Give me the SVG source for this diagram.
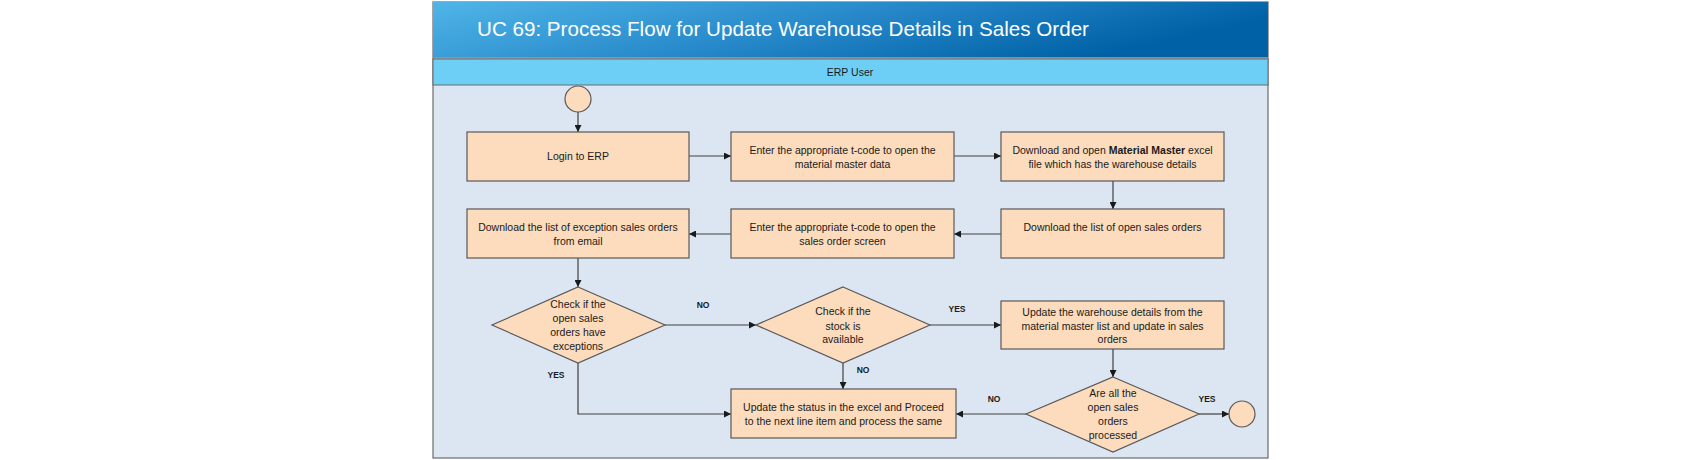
<svg xmlns="http://www.w3.org/2000/svg" width="1702" height="460" viewBox="0 0 1702 460">
<style>
.box{fill:#FCDCBD;stroke:#595959;stroke-width:1.2}
.t{font-family:"Liberation Sans",Arial,sans-serif;font-size:10.5px;fill:#1a1a1a;text-anchor:middle}
.lbl{font-family:"Liberation Sans",Arial,sans-serif;font-size:8.5px;font-weight:bold;fill:#1a1a1a;text-anchor:middle}
.c{fill:none;stroke:#404040;stroke-width:1.2;marker-end:url(#ah)}
</style>
<defs>
<linearGradient id="tg" x1="0" y1="0" x2="1" y2="0.3">
<stop offset="0" stop-color="#50B5E8"/>
<stop offset="0.55" stop-color="#2587C8"/>
<stop offset="1" stop-color="#0061A6"/>
</linearGradient>
<marker id="ah" viewBox="0 0 10 10" refX="10" refY="5" markerWidth="7" markerHeight="7" markerUnits="userSpaceOnUse" orient="auto">
<path d="M0,0 L10,5 L0,10 z" fill="#1a1a1a"/>
</marker>
</defs>
<rect x="0" y="0" width="1702" height="460" fill="#ffffff"/>
<g id="frame">
<rect x="433" y="2" width="835" height="456" fill="#DCE6F2" stroke="#6b6b6b" stroke-width="1.2"/>
<rect x="433" y="2" width="835" height="55.5" fill="url(#tg)"/>
<line x1="433" y1="58" x2="1268" y2="58" stroke="#8a8a8a" stroke-width="1.5"/>
<rect x="433" y="59" width="835" height="26" fill="#6DCFF6" stroke="#6b6b6b" stroke-width="1"/>
<text x="477" y="36" font-family="'Liberation Sans',Arial,sans-serif" font-size="21px" fill="#ffffff" textLength="612" lengthAdjust="spacingAndGlyphs">UC 69: Process Flow for Update Warehouse Details in Sales Order</text>
<text x="850" y="75.5" class="t" font-size="10px">ERP User</text>
</g>
<g id="connectors">
<line class="c" x1="578" y1="112" x2="578" y2="132"/>
<line class="c" x1="689" y1="156" x2="731" y2="156"/>
<line class="c" x1="954" y1="156" x2="1001" y2="156"/>
<line class="c" x1="1113" y1="181" x2="1113" y2="209"/>
<line class="c" x1="1001" y1="234" x2="954" y2="234"/>
<line class="c" x1="731" y1="234" x2="689" y2="234"/>
<line class="c" x1="578" y1="258" x2="578" y2="287"/>
<line class="c" x1="665" y1="325" x2="756" y2="325"/>
<polyline class="c" points="578,363 578,414 731,414"/>
<line class="c" x1="843" y1="363" x2="843" y2="389"/>
<line class="c" x1="930" y1="325" x2="1001" y2="325"/>
<line class="c" x1="1113" y1="349" x2="1113" y2="377"/>
<line class="c" x1="1026" y1="414" x2="956" y2="414"/>
<line class="c" x1="1199" y1="414" x2="1229" y2="414"/>
<text class="lbl" x="703" y="308">NO</text>
<text class="lbl" x="556" y="378">YES</text>
<text class="lbl" x="863" y="373">NO</text>
<text class="lbl" x="957" y="312">YES</text>
<text class="lbl" x="994" y="402">NO</text>
<text class="lbl" x="1207" y="402">YES</text>
</g>
<g id="start"><circle class="box" cx="578" cy="99" r="13"/></g>
<g id="end"><circle class="box" cx="1242" cy="414" r="13"/></g>
<g id="login">
<rect class="box" x="467" y="132" width="222" height="49"/>
<text class="t" x="578" y="160">Login to ERP</text>
</g>
<g id="enter-mm">
<rect class="box" x="731" y="132" width="223" height="49"/>
<text class="t" x="842.5" y="154">Enter the appropriate t-code to open the</text>
<text class="t" x="842.5" y="168">material master data</text>
</g>
<g id="download-mm">
<rect class="box" x="1001" y="132" width="223" height="49"/>
<text class="t" x="1112.5" y="154">Download and open <tspan font-weight="bold">Material Master</tspan> excel</text>
<text class="t" x="1112.5" y="168">file which has the warehouse details</text>
</g>
<g id="download-open">
<rect class="box" x="1001" y="209" width="223" height="49"/>
<text class="t" x="1112.5" y="231">Download the list of open sales orders</text>
</g>
<g id="enter-so">
<rect class="box" x="731" y="209" width="223" height="49"/>
<text class="t" x="842.5" y="231">Enter the appropriate t-code to open the</text>
<text class="t" x="842.5" y="245">sales order screen</text>
</g>
<g id="download-exc">
<rect class="box" x="467" y="209" width="222" height="49"/>
<text class="t" x="578" y="231">Download the list of exception sales orders</text>
<text class="t" x="578" y="245">from email</text>
</g>
<g id="check-exc">
<polygon class="box" points="578,287 665,325 578,363 492,325"/>
<text class="t" x="578" y="308">Check if the</text>
<text class="t" x="578" y="322">open sales</text>
<text class="t" x="578" y="336">orders have</text>
<text class="t" x="578" y="350">exceptions</text>
</g>
<g id="check-stock">
<polygon class="box" points="843,287 930,325 843,363 756,325"/>
<text class="t" x="843" y="315">Check if the</text>
<text class="t" x="843" y="329.5">stock is</text>
<text class="t" x="843" y="343">available</text>
</g>
<g id="update-wh">
<rect class="box" x="1001" y="301" width="223" height="48"/>
<text class="t" x="1112.5" y="315.5">Update the warehouse details from the</text>
<text class="t" x="1112.5" y="329.5">material master list and update in sales</text>
<text class="t" x="1112.5" y="343">orders</text>
</g>
<g id="all-processed">
<polygon class="box" points="1113,377 1199,414 1113,452 1026,414"/>
<text class="t" x="1113" y="397">Are all the</text>
<text class="t" x="1113" y="411">open sales</text>
<text class="t" x="1113" y="425">orders</text>
<text class="t" x="1113" y="439">processed</text>
</g>
<g id="update-status">
<rect class="box" x="731" y="389" width="225" height="49"/>
<text class="t" x="843.5" y="411">Update the status in the excel and Proceed</text>
<text class="t" x="843.5" y="425">to the next line item and process the same</text>
</g>
</svg>
